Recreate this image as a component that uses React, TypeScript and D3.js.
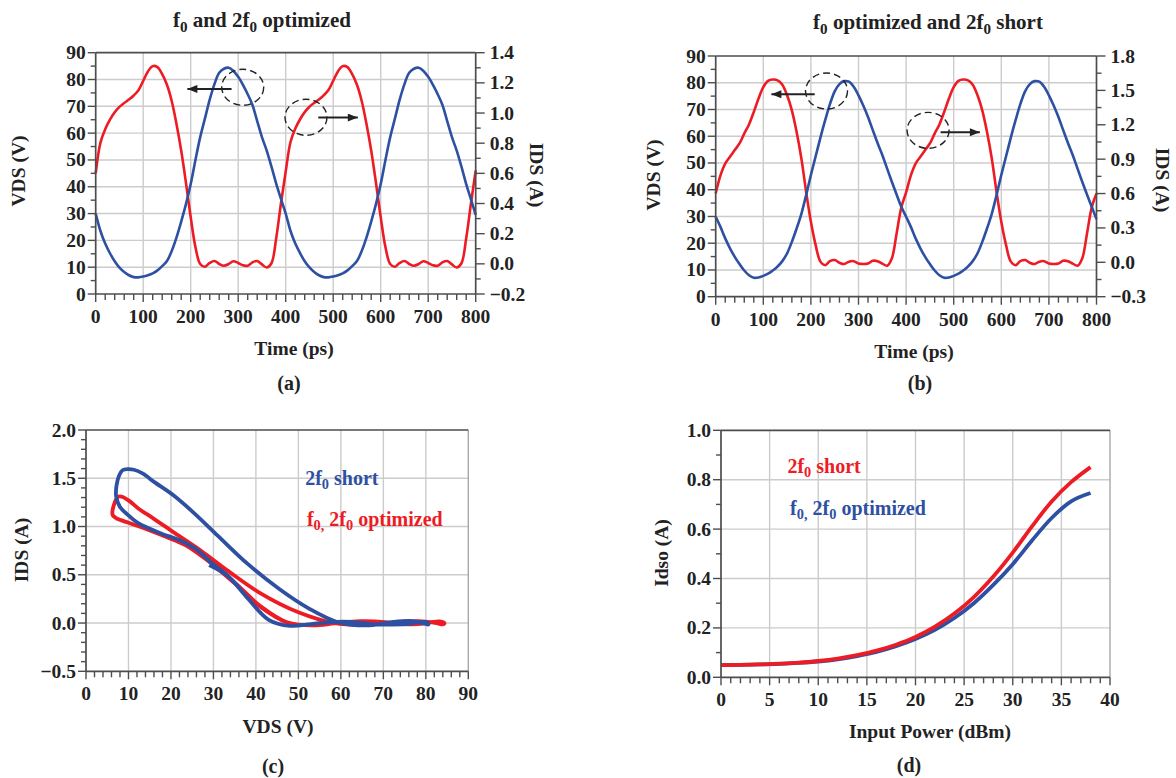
import React from "react";
import * as d3 from "d3";

// ---------- data ----------
const TIME_PS = [
  0, 10, 20, 30, 40, 50, 60, 70, 80, 90, 100, 110, 120, 130, 140, 150, 160, 170, 180, 190,
  200, 210, 220, 230, 240, 250, 260, 270, 280, 290, 300, 310, 320, 330, 340, 350, 360, 370, 380, 390,
  400, 410, 420, 430, 440, 450, 460, 470, 480, 490, 500, 510, 520, 530, 540, 550, 560, 570, 580, 590,
  600, 610, 620, 630, 640, 650, 660, 670, 680, 690, 700, 710, 720, 730, 740, 750, 760, 770, 780, 790, 800,
];

// (a) f0 and 2f0 optimized
const VDS_A = [
  30, 23.5, 18.8, 15.2, 12.2, 9.8, 8.2, 7, 6.3, 6.2, 6.5, 7, 7.7, 8.8, 10.4, 12.3, 16, 21, 27, 33.5,
  41, 50, 58.5, 65.5, 72.5, 78.3, 82.5, 84, 84.4, 83.2, 81, 78, 74.5, 70.5, 64.5, 58.5, 53.5, 47.5, 41.2, 35.5,
  30, 23.6, 18.9, 15.3, 12.2, 9.9, 8.2, 7, 6.3, 6.2, 6.5, 7, 7.7, 8.8, 10.4, 12.3, 16, 21, 27, 33.5,
  41, 50, 58.5, 65.5, 72.5, 78.3, 82.5, 84, 84.4, 83.2, 81, 78, 74.5, 70.5, 64.5, 58.5, 53.5, 47.5, 41, 35.3, 29.5,
];
const IDS_A = [
  0.6, 0.804, 0.893, 0.956, 1.005, 1.041, 1.066, 1.089, 1.116, 1.151, 1.213, 1.276, 1.311, 1.304, 1.258, 1.187, 1.08, 0.929, 0.751, 0.538,
  0.31, 0.111, -0.001, -0.019, 0.006, 0.019, -0.001, -0.013, -0.001, 0.017, 0.006, -0.01, -0.012, 0.01, 0.019, -0.004, -0.024, 0.004, 0.17, 0.4,
  0.612, 0.806, 0.895, 0.957, 1.006, 1.042, 1.067, 1.09, 1.117, 1.152, 1.214, 1.276, 1.311, 1.304, 1.258, 1.187, 1.08, 0.929, 0.751, 0.538,
  0.31, 0.111, -0.001, -0.019, 0.006, 0.019, -0.001, -0.013, -0.001, 0.017, 0.006, -0.01, -0.012, 0.01, 0.019, -0.004, -0.024, 0.004, 0.17, 0.4, 0.62,
];

// (b) f0 optimized and 2f0 short
const VDS_B = [
  29.9, 26.1, 21.8, 18.1, 14.9, 12.2, 9.8, 8, 7.1, 7.2, 7.8, 8.6, 9.8, 11.3, 13.3, 16.2, 20.5, 25.5, 31, 38,
  45.5, 52.5, 59.5, 66, 72, 76.8, 79.5, 80.6, 80.4, 78.5, 75.3, 71.5, 67.2, 62.3, 57.5, 53, 48, 43, 38.2, 33.6,
  29.9, 26.1, 21.8, 18.1, 14.9, 12.2, 9.8, 8, 7.1, 7.2, 7.8, 8.6, 9.8, 11.3, 13.3, 16.2, 20.5, 25.5, 31, 38,
  45.5, 52.5, 59.5, 66, 72, 76.8, 79.5, 80.6, 80.4, 78.5, 75.3, 71.5, 67.2, 62.3, 57.5, 53, 48, 43, 38.2, 33.6, 29,
];
const IDS_B = [
  0.6, 0.759, 0.862, 0.92, 0.979, 1.037, 1.123, 1.203, 1.312, 1.429, 1.529, 1.583, 1.595, 1.588, 1.55, 1.457, 1.326, 1.137, 0.906, 0.615,
  0.353, 0.15, 0.006, -0.025, 0.01, 0.02, -0.004, -0.015, 0.006, 0.01, -0.011, -0.015, -0.011, 0.013, 0.01, -0.011, -0.029, 0.034, 0.25, 0.48,
  0.61, 0.759, 0.862, 0.92, 0.979, 1.037, 1.123, 1.203, 1.312, 1.429, 1.529, 1.583, 1.595, 1.588, 1.55, 1.457, 1.326, 1.137, 0.906, 0.615,
  0.353, 0.15, 0.006, -0.025, 0.01, 0.02, -0.004, -0.015, 0.006, 0.01, -0.011, -0.015, -0.011, 0.013, 0.01, -0.011, -0.029, 0.034, 0.25, 0.48, 0.6,
];

// (d) Idso vs input power
const PIN_DBM = [0, 2, 4, 6, 8, 10, 12, 14, 16, 18, 20, 22, 24, 26, 28, 30, 32, 34, 36, 38];
const IDSO_2F0_SHORT = [0.049, 0.05, 0.052, 0.055, 0.059, 0.066, 0.076, 0.09, 0.108, 0.132, 0.163, 0.205, 0.258, 0.325, 0.408, 0.505, 0.612, 0.712, 0.79, 0.851];
const IDSO_OPTIMIZED = [0.049, 0.05, 0.052, 0.054, 0.058, 0.064, 0.073, 0.086, 0.103, 0.126, 0.155, 0.192, 0.24, 0.3, 0.374, 0.458, 0.555, 0.645, 0.712, 0.746];

// tick labels
const TIME_TICKS = [0, 100, 200, 300, 400, 500, 600, 700, 800];
const VDS_TICKS = [0, 10, 20, 30, 40, 50, 60, 70, 80, 90];
const IDS_A_TICKS = [-0.2, 0, 0.2, 0.4, 0.6, 0.8, 1.0, 1.2, 1.4];
const IDS_B_TICKS = [-0.3, 0, 0.3, 0.6, 0.9, 1.2, 1.5, 1.8];
const LOOP_IDS_TICKS = [-0.5, 0, 0.5, 1.0, 1.5, 2.0];
const PIN_TICKS = [0, 5, 10, 15, 20, 25, 30, 35, 40];
const IDSO_TICKS = [0, 0.2, 0.4, 0.6, 0.8, 1.0];

// ---------- styling ----------
const FONT = "'Liberation Serif', 'Times New Roman', serif";
const RED = "#ED1C24";
const BLUE = "#2E50A2";
const AXC = "#4d4d4d";
const GRID = "#cccccc";
const EDGE = "#a8a8a8";
const INK = "#222222";

type Box = { l: number; r: number; t: number; b: number };
type Scale = d3.ScaleLinear<number, number>;

const f1 = d3.format(".1f");
const f0 = (v: number) => String(v);

function rich(parts: (string | [string])[], size: number) {
  let shifted = false;
  return parts.map((p, i) => {
    if (typeof p === "string") {
      const dy = shifted ? -size * 0.22 : 0;
      shifted = false;
      return (
        <tspan key={i} dy={dy} fontSize={size}>
          {p}
        </tspan>
      );
    }
    shifted = true;
    return (
      <tspan key={i} dy={size * 0.22} fontSize={size * 0.72}>
        {p[0]}
      </tspan>
    );
  });
}

type PanelProps = {
  box: Box;
  xDomain: [number, number];
  xTicks: number[];
  xMinor: number;
  xFmt: (v: number) => string;
  yDomain: [number, number];
  yTicks: number[];
  yMinor: number;
  yFmt: (v: number) => string;
  y2Domain?: [number, number];
  y2Ticks?: number[];
  y2Minor?: number;
  y2Fmt?: (v: number) => string;
  render: (x: Scale, y: Scale, y2: Scale | null) => React.ReactNode;
};

function Panel(p: PanelProps) {
  const { box } = p;
  const x = d3.scaleLinear().domain(p.xDomain).range([box.l, box.r]);
  const y = d3.scaleLinear().domain(p.yDomain).range([box.b, box.t]);
  const y2 = p.y2Domain ? d3.scaleLinear().domain(p.y2Domain).range([box.b, box.t]) : null;
  const eps = 1e-6;
  const minor = (d: [number, number], step: number) => d3.range(d[0], d[1] + step * 0.5, step);
  const inner = (v: number, d: [number, number]) => v > d[0] + eps && v < d[1] - eps;
  const isMajor = (v: number, ticks: number[]) => ticks.some((t) => Math.abs(t - v) < 1e-6);
  const fs = 19.5;
  return (
    <g>
      {p.xTicks.filter((v) => inner(v, p.xDomain)).map((v) => (
        <line key={"gx" + v} x1={x(v)} x2={x(v)} y1={box.t} y2={box.b} stroke={GRID} strokeWidth={1.4} />
      ))}
      {p.yTicks.filter((v) => inner(v, p.yDomain)).map((v) => (
        <line key={"gy" + v} x1={box.l} x2={box.r} y1={y(v)} y2={y(v)} stroke={GRID} strokeWidth={1.4} />
      ))}
      {!y2 && <line x1={box.r} x2={box.r} y1={box.t} y2={box.b} stroke={EDGE} strokeWidth={1.4} />}
      {p.render(x, y, y2)}
      <line x1={box.l} x2={box.r} y1={box.t} y2={box.t} stroke={AXC} strokeWidth={1.7} />
      {/* left axis */}
      <line x1={box.l} x2={box.l} y1={box.t} y2={box.b} stroke={AXC} strokeWidth={1.7} />
      {minor(p.yDomain, p.yMinor).map((v, i) => (
        <line key={"ly" + i} x1={box.l - (isMajor(v, p.yTicks) ? 8 : 5)} x2={box.l} y1={y(v)} y2={y(v)} stroke={AXC} strokeWidth={1.4} />
      ))}
      {p.yTicks.map((v) => (
        <text key={"lt" + v} x={box.l - 10} y={y(v)} textAnchor="end" dominantBaseline="central" fontSize={fs} fontWeight="bold" fontFamily={FONT} fill={INK}>
          {p.yFmt(v)}
        </text>
      ))}
      {/* bottom axis */}
      <line x1={box.l} x2={box.r} y1={box.b} y2={box.b} stroke={AXC} strokeWidth={1.7} />
      {minor(p.xDomain, p.xMinor).map((v, i) => (
        <line key={"bx" + i} x1={x(v)} x2={x(v)} y1={box.b} y2={box.b + (isMajor(v, p.xTicks) ? 8 : 6)} stroke={AXC} strokeWidth={1.4} />
      ))}
      {p.xTicks.map((v) => (
        <text key={"bt" + v} x={x(v)} y={box.b + 29} textAnchor="middle" fontSize={fs} fontWeight="bold" fontFamily={FONT} fill={INK}>
          {p.xFmt(v)}
        </text>
      ))}
      {/* right axis */}
      {y2 && p.y2Domain && p.y2Ticks && (
        <g>
          <line x1={box.r} x2={box.r} y1={box.t} y2={box.b} stroke={AXC} strokeWidth={1.7} />
          {minor(p.y2Domain, p.y2Minor || 0.1).map((v, i) => (
            <line key={"ry" + i} x1={box.r} x2={box.r + (isMajor(v, p.y2Ticks!) ? 9 : 5)} y1={y2(v)} y2={y2(v)} stroke={AXC} strokeWidth={1.4} />
          ))}
          {p.y2Ticks.map((v) => (
            <text key={"rt" + v} x={box.r + 14} y={y2(v)} textAnchor="start" dominantBaseline="central" fontSize={fs} fontWeight="bold" fontFamily={FONT} fill={INK}>
              {(p.y2Fmt || f1)(v)}
            </text>
          ))}
        </g>
      )}
    </g>
  );
}

function Label({ x, y, rot = 0, size = 19.5, children, fill = INK, anchor = "middle" }: any) {
  return (
    <text
      x={x}
      y={y}
      transform={rot ? `rotate(${rot},${x},${y})` : undefined}
      textAnchor={anchor}
      dominantBaseline={rot ? "central" : undefined}
      fontSize={size}
      fontWeight="bold"
      fontFamily={FONT}
      fill={fill}
    >
      {children}
    </text>
  );
}

function Annot({ x, y, cx, cy, a0, a1, ay }: { x: Scale; y: Scale; cx: number; cy: number; a0: number; a1: number; ay: number }) {
  return (
    <g>
      <ellipse cx={x(cx)} cy={y(cy)} rx={21} ry={18} fill="none" stroke={INK} strokeWidth={1.4} strokeDasharray="7 4" />
      <line x1={x(a0)} x2={x(a1)} y1={y(ay)} y2={y(ay)} stroke={INK} strokeWidth={2} markerEnd="url(#arrowHead)" />
    </g>
  );
}

const A: Box = { l: 95.7, r: 475.7, t: 52.7, b: 294 };
const B: Box = { l: 715.7, r: 1096.5, t: 56, b: 296.7 };
const C: Box = { l: 86, r: 468.3, t: 430, b: 671.3 };
const D: Box = { l: 721, r: 1110, t: 430.3, b: 677.3 };

export default function App() {
  const curve = d3.curveCatmullRom.alpha(0.5);
  const timeLine = (x: Scale, yy: Scale, vals: number[]) =>
    d3.line<number>().x((_, i) => x(TIME_PS[i])).y((v) => yy(v)).curve(curve)(vals) || "";
  const loopLine = (x: Scale, yy: Scale, vds: number[], ids: number[]) =>
    d3.line<number>().x((v) => x(v)).y((_, i) => yy(ids[i])).curve(curve)(vds) || "";
  const pinLine = (x: Scale, yy: Scale, vals: number[]) =>
    d3.line<number>().x((_, i) => x(PIN_DBM[i])).y((v) => yy(v)).curve(d3.curveMonotoneX)(vals) || "";

  return (
    <svg width={1176} height={778} style={{ position: "absolute", left: 0, top: 0, background: "#fff" }}>
      <defs>
        <marker id="arrowHead" viewBox="0 0 10 8" refX={10} refY={4} markerWidth={11} markerHeight={8} markerUnits="userSpaceOnUse" orient="auto">
          <path d="M0,0 L10,4 L0,8 z" fill={INK} />
        </marker>
      </defs>
      <rect x={0} y={0} width={1176} height={778} fill="#fff" />

      {/* (a) */}
      <Panel
        box={A}
        xDomain={[0, 800]} xTicks={TIME_TICKS} xMinor={20} xFmt={f0}
        yDomain={[0, 90]} yTicks={VDS_TICKS} yMinor={5} yFmt={f0}
        y2Domain={[-0.2, 1.4]} y2Ticks={IDS_A_TICKS} y2Minor={0.1} y2Fmt={f1}
        render={(x, y, y2) => (
          <g>
            <path d={timeLine(x, y2!, IDS_A)} fill="none" stroke={RED} strokeWidth={2.6} />
            <path d={timeLine(x, y, VDS_A)} fill="none" stroke={BLUE} strokeWidth={2.6} />
            <Annot x={x} y={y} cx={309.5} cy={77.1} a0={286} a1={193} ay={76.5} />
            <Annot x={x} y={y} cx={442.7} cy={65.9} a0={468.6} a1={551.8} ay={65.8} />
          </g>
        )}
      />
      <Label x={262} y={27} size={21}>{rich(["f", ["0"], " and 2f", ["0"], " optimized"], 21)}</Label>
      <Label x={18} y={171} rot={-90}>VDS (V)</Label>
      <Label x={536} y={175} rot={90}>IDS (A)</Label>
      <Label x={294} y={355}>Time (ps)</Label>
      <Label x={289} y={390} size={20}>(a)</Label>

      {/* (b) */}
      <Panel
        box={B}
        xDomain={[0, 800]} xTicks={TIME_TICKS} xMinor={20} xFmt={f0}
        yDomain={[0, 90]} yTicks={VDS_TICKS} yMinor={5} yFmt={f0}
        y2Domain={[-0.3, 1.8]} y2Ticks={IDS_B_TICKS} y2Minor={0.15} y2Fmt={f1}
        render={(x, y, y2) => (
          <g>
            <path d={timeLine(x, y2!, IDS_B)} fill="none" stroke={RED} strokeWidth={2.6} />
            <path d={timeLine(x, y, VDS_B)} fill="none" stroke={BLUE} strokeWidth={2.6} />
            <Annot x={x} y={y} cx={232.8} cy={76.9} a0={208} a1={117} ay={75.7} />
            <Annot x={x} y={y} cx={446.2} cy={62.2} a0={472.5} a1={555} ay={61.5} />
          </g>
        )}
      />
      <Label x={928} y={29} size={21}>{rich(["f", ["0"], " optimized and 2f", ["0"], " short"], 21)}</Label>
      <Label x={653} y={175} rot={-90}>VDS (V)</Label>
      <Label x={1162} y={180} rot={90}>IDS (A)</Label>
      <Label x={914} y={358}>Time (ps)</Label>
      <Label x={920} y={390} size={20}>(b)</Label>

      {/* (c) */}
      <Panel
        box={C}
        xDomain={[0, 90]} xTicks={VDS_TICKS} xMinor={2} xFmt={f0}
        yDomain={[-0.5, 2.0]} yTicks={LOOP_IDS_TICKS} yMinor={0.1} yFmt={f1}
        render={(x, y) => (
          <g>
            <path d={loopLine(x, y, VDS_A, IDS_A)} fill="none" stroke={RED} strokeWidth={3.8} strokeLinejoin="round" />
            <path d={loopLine(x, y, VDS_B, IDS_B)} fill="none" stroke={BLUE} strokeWidth={3.8} strokeLinejoin="round" />
            <Label x={x(51.6)} y={y(1.43)} size={20} fill={BLUE} anchor="start">{rich(["2f", ["0"], " short"], 20)}</Label>
            <Label x={x(52)} y={y(1.005)} size={20} fill={RED} anchor="start">{rich(["f", ["0,"], " 2f", ["0"], " optimized"], 20)}</Label>
          </g>
        )}
      />
      <Label x={21} y={550} rot={-90}>IDS (A)</Label>
      <Label x={278} y={733}>VDS (V)</Label>
      <Label x={273} y={773} size={20}>(c)</Label>

      {/* (d) */}
      <Panel
        box={D}
        xDomain={[0, 40]} xTicks={PIN_TICKS} xMinor={1} xFmt={f0}
        yDomain={[0, 1.0]} yTicks={IDSO_TICKS} yMinor={0.1} yFmt={f1}
        render={(x, y) => (
          <g>
            <path d={pinLine(x, y, IDSO_OPTIMIZED)} fill="none" stroke={BLUE} strokeWidth={3.8} />
            <path d={pinLine(x, y, IDSO_2F0_SHORT)} fill="none" stroke={RED} strokeWidth={3.8} />
            <Label x={x(6.83)} y={y(0.827)} size={20} fill={RED} anchor="start">{rich(["2f", ["0"], " short"], 20)}</Label>
            <Label x={x(7.1)} y={y(0.657)} size={20} fill={BLUE} anchor="start">{rich(["f", ["0,"], " 2f", ["0"], " optimized"], 20)}</Label>
          </g>
        )}
      />
      <Label x={661} y={553} rot={-90}>Idso (A)</Label>
      <Label x={930} y={738}>Input Power (dBm)</Label>
      <Label x={909} y={772} size={20}>(d)</Label>
    </svg>
  );
}
